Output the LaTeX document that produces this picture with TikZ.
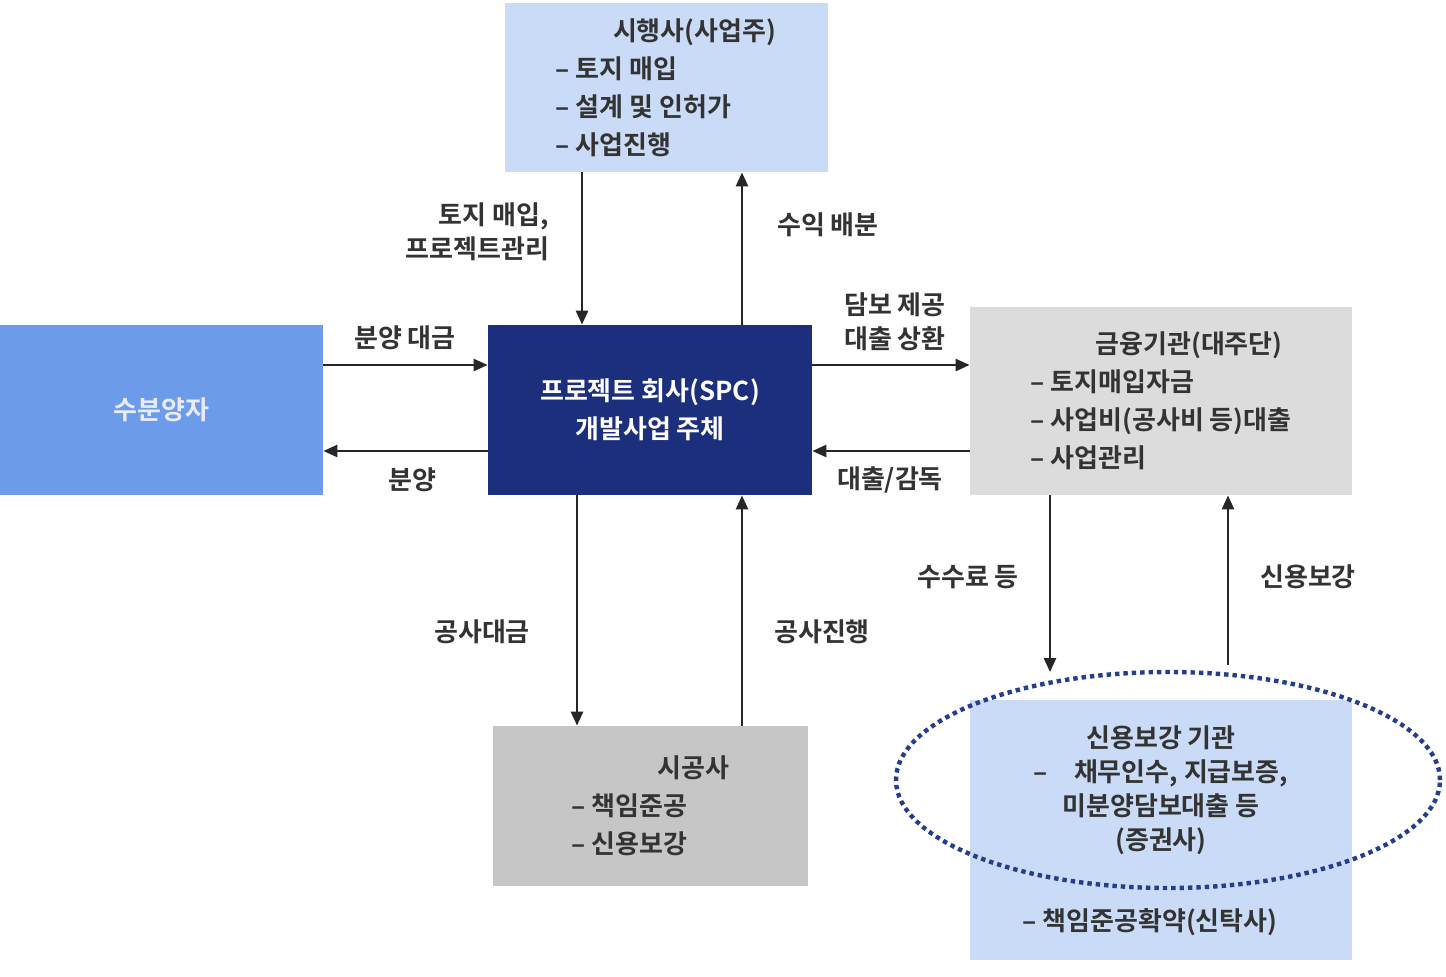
\documentclass[tikz,border=0pt]{standalone}
\usepackage{fontspec}
\setmainfont{Noto Sans CJK KR}[BoldFont={Noto Sans CJK KR Bold}]
\usetikzlibrary{arrows.meta,shapes.geometric}
\definecolor{lb}{HTML}{C9DBF6}
\definecolor{mb}{HTML}{6C9CE9}
\definecolor{navy}{HTML}{1B2F7C}
\definecolor{lg}{HTML}{DCDCDC}
\definecolor{mg}{HTML}{C6C6C6}
\definecolor{txt}{HTML}{333333}
\definecolor{dot}{HTML}{233E8C}
\begin{document}
\begin{tikzpicture}[x=0.5pt,y=-0.5pt,
  box/.style={draw=none,inner sep=0pt,font=\fontsize{13}{19}\selectfont\bfseries,text=txt},
  arr/.style={-{Triangle[length=7pt,width=6pt]},line width=1.3pt,draw=black!85},
  lab/.style={font=\fontsize{13}{17}\selectfont\bfseries,text=txt,align=center}]
\useasboundingbox[fill=white] (0,0) rectangle (1446,976);
\node[box,fill=lb,minimum width=161.5pt,minimum height=84.5pt,align=left] (top) at (666,87.5) {\hspace*{2.2em}시행사(사업주)\\– 토지 매입\\– 설계 및 인허가\\– 사업진행};
\node[box,fill=mb,minimum width=161.5pt,minimum height=85pt,text=white!92!blue] (buy) at (161.5,410) {수분양자};
\node[box,fill=navy,minimum width=162pt,minimum height=85pt,text=white,align=center] (spc) at (650,410) {프로젝트 회사(SPC)\\개발사업 주체};
\node[box,fill=lg,minimum width=191pt,minimum height=94pt,align=left] (fin) at (1161,401) {\hspace*{2.5em}금융기관(대주단)\\– 토지매입자금\\– 사업비(공사비 등)대출\\– 사업관리};
\node[box,fill=mg,minimum width=157.5pt,minimum height=80pt,align=left] (con) at (650.5,806) {\hspace*{3.3em}시공사\\– 책임준공\\– 신용보강};
\node[box,fill=lb,minimum width=191pt,minimum height=130pt] (cr) at (1161,830) {};
\node[ellipse,draw=dot,dotted,line width=2.2pt,minimum width=272pt,minimum height=108pt] (ell) at (1168,780) {};
\node[lab] (crt) at (1161,790) {신용보강 기관\\–\hspace{1em}채무인수, 지급보증,\\미분양담보대출 등\\(증권사)};
\node[lab] (crb) at (1150,922) {– 책임준공확약(신탁사)};
% arrows
\draw[arr] (top.south -| 582,0) -- (spc.north -| 582,0);
\draw[arr] (spc.north -| 742,0) -- (top.south -| 742,0);
\draw[arr] (buy.east |- 0,365) -- (spc.west |- 0,365);
\draw[arr] (spc.west |- 0,451) -- (buy.east |- 0,451);
\draw[arr] (spc.east |- 0,365) -- (fin.west |- 0,365);
\draw[arr] (fin.west |- 0,451) -- (spc.east |- 0,451);
\draw[arr] (spc.south -| 577,0) -- (con.north -| 577,0);
\draw[arr] (con.north -| 742,0) -- (spc.south -| 742,0);
\coordinate (fe) at (1050,672);
\coordinate (cs) at (1228,665);
\draw[arr] (fin.south -| fe) -- (fe);
\draw[arr] (cs) -- (fin.south -| cs);
% labels
\node[lab,align=right,anchor=east] (l1) at (556,232) {토지 매입,\\프로젝트관리};
\node[lab] (l2) at (828,225) {수익 배분};
\node[lab] (l3) at (405,338) {분양 대금};
\node[lab] (l4) at (412,480) {분양};
\node[lab] (l5) at (895,322) {담보 제공\\대출 상환};
\node[lab] (l6) at (890,480) {대출/감독};
\node[lab] (l7) at (482,632) {공사대금};
\node[lab] (l8) at (822,632) {공사진행};
\node[lab] (l9) at (968,577) {수수료 등};
\node[lab] (l10) at (1308,577) {신용보강};
\end{tikzpicture}
\end{document}
